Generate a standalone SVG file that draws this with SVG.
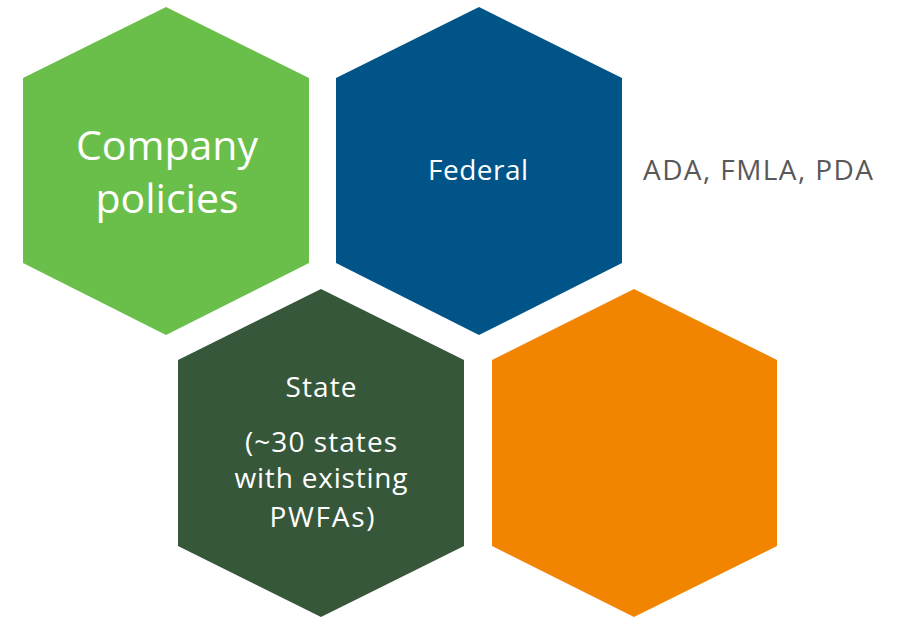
<svg xmlns="http://www.w3.org/2000/svg" width="901" height="617" viewBox="0 0 901 617">
<style>
text{font-family:"Open Sans","Liberation Sans",sans-serif;fill:#fff;text-anchor:middle}
.big{font-size:41px}
.mid{font-size:28px}
.side{fill:#595959;text-anchor:start}
</style>
<rect width="901" height="617" fill="#fff"/>
<g id="company">
<polygon points="166,7 309,78 309,263 166,335 23,263 23,78" fill="#6ABF4B"/>
<text class="big" x="167" y="160" textLength="182">Company</text>
<text class="big" x="167" y="213">policies</text>
</g>
<g id="federal">
<polygon points="479,7 622,78 622,263 479,335 336,263 336,78" fill="#005487"/>
<text class="mid" x="478" y="180" textLength="100">Federal</text>
</g>
<g id="federal-laws">
<text class="mid side" x="643" y="180" textLength="230">ADA, FMLA, PDA</text>
</g>
<g id="state">
<polygon points="321,289 464,360 464,546 321,617 178,546 178,360" fill="#37573B"/>
<text class="mid" x="321" y="397" textLength="71">State</text>
<text class="mid" x="321" y="452" textLength="152">(~30 states</text>
<text class="mid" x="321" y="488" textLength="173">with existing</text>
<text class="mid" x="322" y="527" textLength="105">PWFAs)</text>
</g>
<g id="other">
<polygon points="634,289 777,360 777,546 634,617 492,546 492,360" fill="#F28500"/>
</g>
<g id="connectors"></g>
</svg>
